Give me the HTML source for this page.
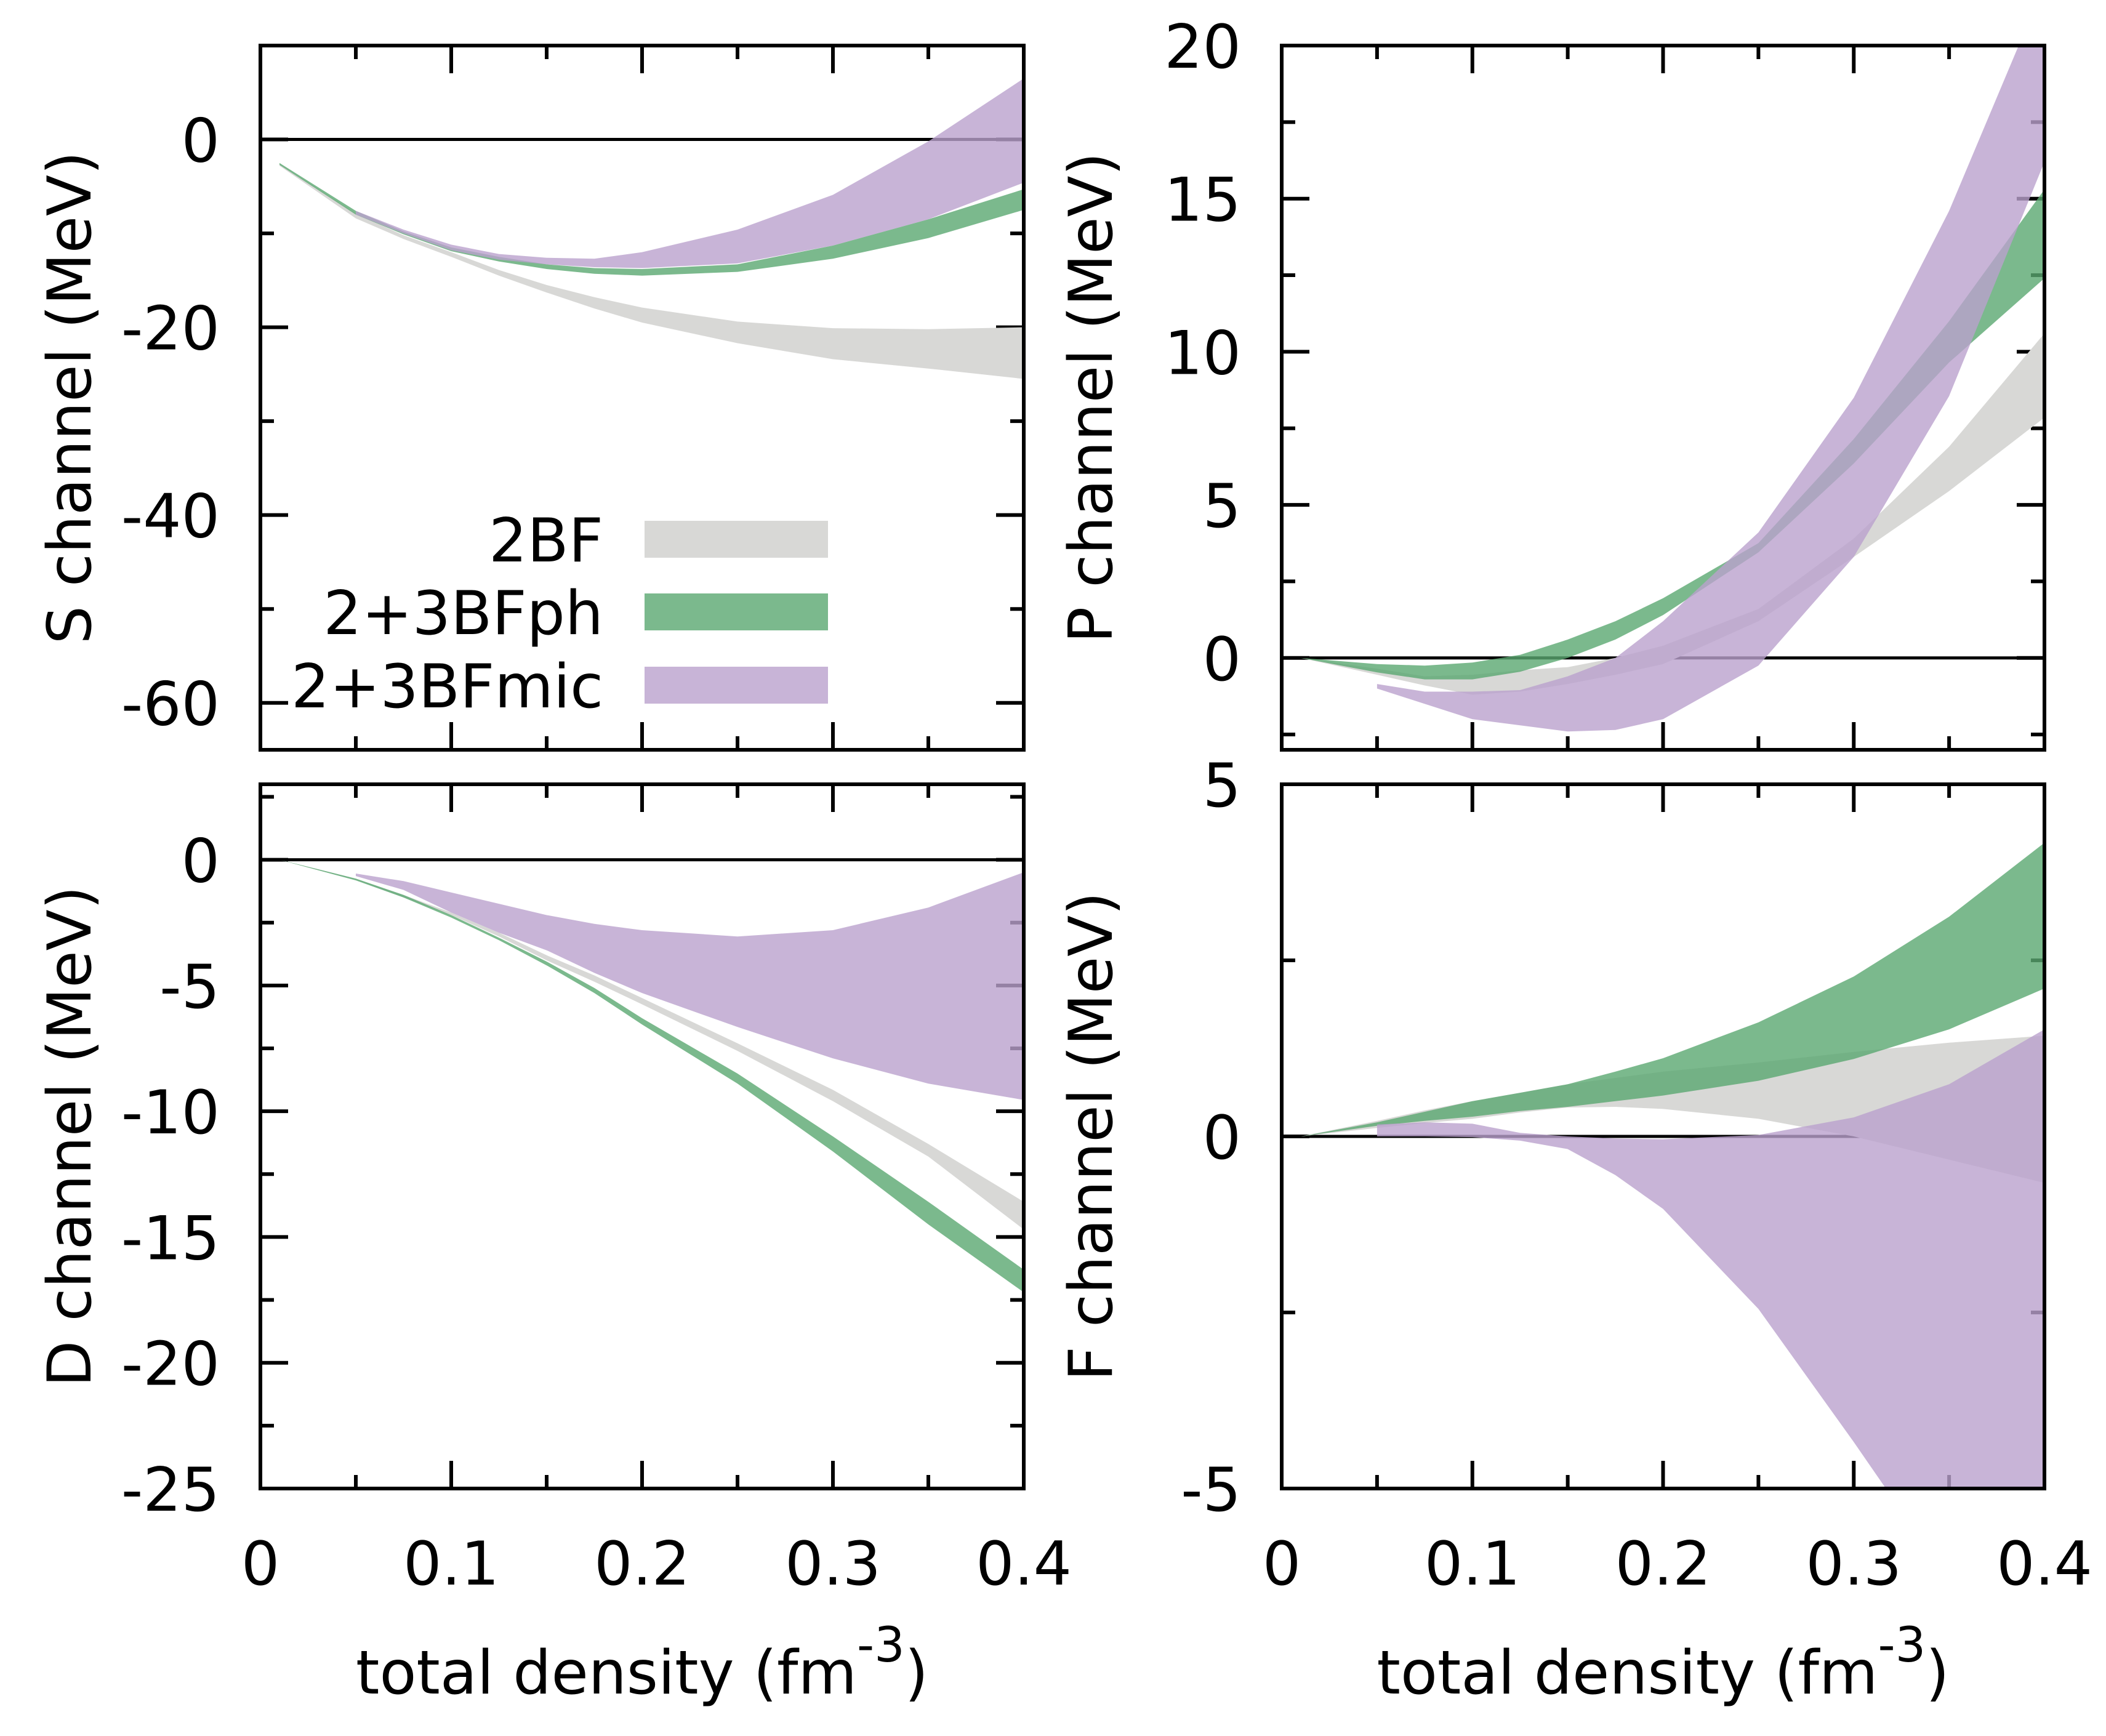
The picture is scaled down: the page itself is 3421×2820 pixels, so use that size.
<!DOCTYPE html>
<html><head><meta charset="utf-8"><style>
html,body{margin:0;padding:0;background:#fff;}
svg text{font-family:"DejaVu Sans","Liberation Sans",sans-serif;fill:#000;}
</style></head><body>
<svg id="chart" xmlns="http://www.w3.org/2000/svg" width="3421" height="2815" viewBox="0 0 3421 2815"></svg>
<script>
const density=[0.01,0.05,0.075,0.1,0.125,0.15,0.175,0.2,0.25,0.3,0.35,0.4];
const seriesNames=['2BF','2+3BFph','2+3BFmic'];
// S channel
const sGrayHi=[-2.6,-7.9,-10.2,-12.0,-13.9,-15.5,-16.8,-17.9,-19.4,-20.1,-20.2,-20.0];
const sGrayLo=[-2.8,-8.4,-10.6,-12.5,-14.5,-16.3,-18.0,-19.5,-21.7,-23.4,-24.4,-25.5];
const sGreenHi=[-2.5,-7.6,-9.8,-11.5,-12.5,-13.3,-13.7,-13.8,-13.3,-11.3,-8.5,-5.3];
const sGreenLo=[-2.7,-8.0,-10.1,-11.9,-13.0,-13.8,-14.3,-14.5,-14.1,-12.7,-10.5,-7.5];
const sMicHi=[null,-7.6,-9.6,-11.2,-12.2,-12.6,-12.7,-12.0,-9.6,-5.9,-0.2,6.5];
const sMicLo=[null,-8.0,-10.0,-11.8,-12.8,-13.3,-13.6,-13.7,-13.2,-11.3,-8.5,-4.6];
// P channel
const pGrayHi=[0,-0.35,-0.6,-0.55,-0.4,-0.3,0,0.4,1.6,3.9,6.9,10.6];
const pGrayLo=[0,-0.55,-0.9,-1.2,-1.1,-0.85,-0.55,-0.2,1.2,3.3,5.45,7.85];
const pGreenHi=[0,-0.2,-0.25,-0.15,0.1,0.6,1.2,1.95,3.75,7.15,11.0,15.3];
const pGreenLo=[0,-0.47,-0.7,-0.7,-0.45,0,0.6,1.4,3.45,6.35,9.65,12.4];
const pMicHi=[null,-0.85,-1.1,-1.1,-1.05,-0.6,0,1.2,4.1,8.5,14.6,22.0];
const pMicLo=[null,-1.0,-1.5,-2.0,-2.2,-2.4,-2.35,-2.0,-0.25,3.3,8.55,16.2];
// D channel
const dGrayHi=[0,-0.75,-1.4,-2.1,-2.9,-3.8,-4.6,-5.5,-7.3,-9.15,-11.3,-13.6];
const dGrayLo=[0,-0.8,-1.5,-2.2,-3.05,-4.0,-4.85,-5.75,-7.6,-9.6,-11.8,-14.7];
const dGreenHi=[0,-0.75,-1.4,-2.2,-3.1,-4.05,-5.1,-6.3,-8.5,-11.0,-13.6,-16.3];
const dGreenLo=[0,-0.82,-1.5,-2.3,-3.2,-4.2,-5.3,-6.55,-8.9,-11.6,-14.5,-17.2];
const dMicHi=[null,-0.55,-0.85,-1.3,-1.75,-2.2,-2.55,-2.8,-3.05,-2.8,-1.9,-0.5];
const dMicLo=[null,-0.65,-1.2,-2.1,-2.9,-3.6,-4.5,-5.3,-6.65,-7.9,-8.9,-9.55];
// F channel
const fGrayHi=[0,0.22,0.37,0.5,0.62,0.74,0.83,0.92,1.05,1.2,1.33,1.43];
const fGrayLo=[0,0.12,0.19,0.25,0.34,0.41,0.42,0.39,0.25,0.0,-0.33,-0.66];
const fGreenHi=[0,0.2,0.35,0.5,0.62,0.74,0.92,1.11,1.62,2.27,3.12,4.17];
const fGreenLo=[0,0.15,0.22,0.28,0.36,0.42,0.5,0.58,0.79,1.1,1.52,2.1];
const fMicHi=[null,0.17,0.2,0.18,0.05,0,-0.03,-0.04,0.02,0.27,0.74,1.52];
const fMicLo=[null,0,0,-0.01,-0.06,-0.18,-0.55,-1.03,-2.45,-4.34,-6.3,-8.0];
// tick values
const xTickLabels=['0','0.1','0.2','0.3','0.4'];
const sTicks=[0,-20,-40,-60];
const pTicks=[0,5,10,15,20];
const dTicks=[0,-5,-10,-15,-20,-25];
const fTicks=[5,0,-5];

const NS='http://www.w3.org/2000/svg';
const svg=document.getElementById('chart');
function mk(tag,attrs,parent){const e=document.createElementNS(NS,tag);for(const k in attrs)e.setAttribute(k,attrs[k]);(parent||svg).appendChild(e);return e;}
const COL={gray:'#d8d8d6',green:'#5aa870',mic:'#baa1cd'};
const OPA={gray:1,green:0.8,mic:0.8};

function panel(o){
  const g=mk('g',{});
  
  
  const X=v=>o.x0+(v-0)/0.4*o.w;
  const Y=v=>o.y0+(o.ymax-v)/(o.ymax-o.ymin)*o.h;
  const cid='clip-'+o.name;
  const cp=mk('clipPath',{id:cid},g);
  mk('rect',{x:o.x0,y:o.y0,width:o.w,height:o.h},cp);
  // ticks x
  for(let i=1;i<8;i++){
    const v=i*0.05; const maj=(i%2===0); const L=maj?45:22; const xx=X(v);
    const t1=mk('line',{x1:xx,x2:xx,y1:o.y0+o.h,y2:o.y0+o.h-L,stroke:'#000','stroke-width':6},g);
    
    
    const t2=mk('line',{x1:xx,x2:xx,y1:o.y0,y2:o.y0+L,stroke:'#000','stroke-width':6},g);
    
    
  }
  // ticks y
  const kStart=Math.ceil(o.ymin/o.minorStep-1e-9), kEnd=Math.floor(o.ymax/o.minorStep+1e-9);
  for(let k=kStart;k<=kEnd;k++){
    const v=k*o.minorStep;
    const maj=o.ticks.some(t=>Math.abs(t-v)<1e-9); const L=maj?45:22; const yy=Y(v);
    if(Math.abs(v-o.ymin)<1e-9||Math.abs(v-o.ymax)<1e-9) continue;
    const t1=mk('line',{x1:o.x0,x2:o.x0+L,y1:yy,y2:yy,stroke:'#000','stroke-width':6},g);
    
    
    const t2=mk('line',{x1:o.x0+o.w,x2:o.x0+o.w-L,y1:yy,y2:yy,stroke:'#000','stroke-width':6},g);
    
    
  }
  // y labels
  o.ticks.forEach(t=>{
    const tx=mk('text',{x:o.x0-66,y:Y(t)+36,'text-anchor':'end','font-size':98},g);
    tx.textContent=String(t);
    
    
  });
  // zero line
  const z=mk('line',{x1:o.x0,x2:o.x0+o.w,y1:Y(0),y2:Y(0),stroke:'#000','stroke-width':5},g);
  
  
  // bands
  const bg=mk('g',{'clip-path':'url(#'+cid+')'},g);
  o.bands.forEach(b=>{
    const top=[],bot=[];
    density.forEach((d,i)=>{ if(b.hi[i]!==null){top.push(X(d).toFixed(1)+','+Y(b.hi[i]).toFixed(1)); bot.push(X(d).toFixed(1)+','+Y(b.lo[i]).toFixed(1));} });
    const p=mk('polygon',{points:top.concat(bot.reverse()).join(' '),fill:COL[b.c],'fill-opacity':OPA[b.c]},bg);
    
    
  });
  // frame
  const fr=mk('rect',{x:o.x0,y:o.y0,width:o.w,height:o.h,fill:'none',stroke:'#000','stroke-width':6},g);
  
  
  // y title
  const yt=mk('text',{transform:'translate('+(o.x0-276)+','+(o.y0+o.h/2)+') rotate(-90)','text-anchor':'middle','font-size':98},g);
  yt.textContent=o.title;
  
  
  if(o.xlabels){
    xTickLabels.forEach(l=>{
      const tx=mk('text',{x:X(parseFloat(l)),y:2574,'text-anchor':'middle','font-size':98},g);
      tx.textContent=l;
      
      
    });
    const xt=mk('text',{x:o.x0+o.w/2,y:2751,'text-anchor':'middle','font-size':98},g);
    
    
    xt.appendChild(document.createTextNode('total density (fm'));
    const sup=mk('tspan',{dy:-52,'font-size':78},xt);
    sup.textContent='-3';
    const cl=mk('tspan',{dy:52,'font-size':98},xt);
    cl.textContent=')';
  }
  return g;
}
panel({name:'s-channel',x0:423,y0:74,w:1240,h:1144,ymin:-65,ymax:10,minorStep:10,ticks:sTicks,title:'S channel (MeV)',xlabels:false,
  bands:[{c:'gray',hi:sGrayHi,lo:sGrayLo},{c:'green',hi:sGreenHi,lo:sGreenLo},{c:'mic',hi:sMicHi,lo:sMicLo}]});
panel({name:'p-channel',x0:2082,y0:74,w:1239,h:1144,ymin:-3,ymax:20,minorStep:2.5,ticks:pTicks,title:'P channel (MeV)',xlabels:false,
  bands:[{c:'gray',hi:pGrayHi,lo:pGrayLo},{c:'green',hi:pGreenHi,lo:pGreenLo},{c:'mic',hi:pMicHi,lo:pMicLo}]});
panel({name:'d-channel',x0:423,y0:1274,w:1240,h:1144,ymin:-25,ymax:3,minorStep:2.5,ticks:dTicks,title:'D channel (MeV)',xlabels:true,
  bands:[{c:'gray',hi:dGrayHi,lo:dGrayLo},{c:'green',hi:dGreenHi,lo:dGreenLo},{c:'mic',hi:dMicHi,lo:dMicLo}]});
panel({name:'f-channel',x0:2082,y0:1274,w:1239,h:1144,ymin:-5,ymax:5,minorStep:2.5,ticks:fTicks,title:'F channel (MeV)',xlabels:true,
  bands:[{c:'gray',hi:fGrayHi,lo:fGrayLo},{c:'green',hi:fGreenHi,lo:fGreenLo},{c:'mic',hi:fMicHi,lo:fMicLo}]});
// legend
const lg=mk('g',{});


const legCols=['gray','green','mic'];
const legY=[876,994,1113];
seriesNames.forEach((n,i)=>{
  const t=mk('text',{x:980,y:legY[i]+36,'text-anchor':'end','font-size':98},lg);
  t.textContent=n;
  
  
  const r=mk('rect',{x:1047,y:legY[i]-30,width:298,height:60,fill:COL[legCols[i]],'fill-opacity':OPA[legCols[i]]},lg);
  
  
});
</script>
</body></html>
